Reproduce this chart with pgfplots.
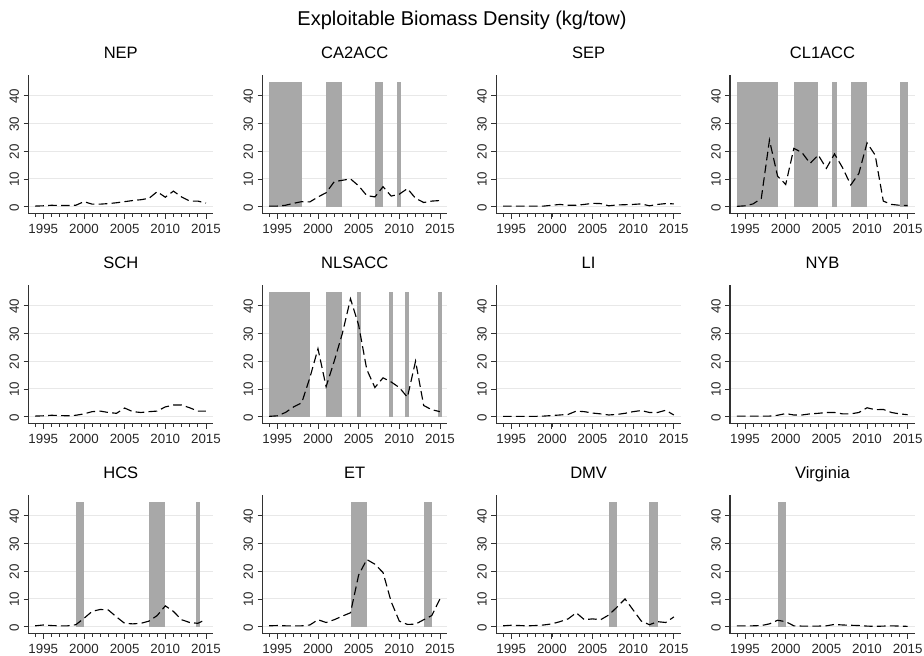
\documentclass[border=0pt]{standalone}
\usepackage{fontspec}
\setmainfont{Liberation Sans}
\usepackage{pgfplots}
\usepackage{pgfplotstable}
\pgfplotsset{compat=1.18}

\definecolor{shade}{RGB}{168,168,168}
\definecolor{gridc}{RGB}{232,232,232}
\definecolor{axc}{RGB}{50,50,50}

% exploitable biomass density by region, kg/tow
\pgfplotstableread{
year NEP CA2ACC SEP CL1ACC SCH NLSACC LI NYB HCS ET DMV VA
1994 0.2 0.2 0.2 0.1 0.2 0.1 0.1 0.2 0.3 0.3 0.3 0.3
1995 0.3 0.2 0.2 0.3 0.3 0.3 0.1 0.2 0.6 0.4 0.5 0.3
1996 0.5 0.5 0.2 1.0 0.5 1.5 0.1 0.2 0.4 0.3 0.4 0.3
1997 0.4 1.2 0.2 3.0 0.4 3.5 0.1 0.2 0.3 0.3 0.3 0.4
1998 0.4 1.8 0.2 24.0 0.3 5.0 0.1 0.2 0.3 0.3 0.4 1.0
1999 0.5 1.7 0.2 11.0 0.5 14.0 0.2 0.5 0.7 0.6 0.6 2.3
2000 1.8 3.5 0.5 8.0 1.0 24.5 0.4 1.1 3.0 2.5 1.0 1.8
2001 0.9 5.0 0.8 21.0 1.8 10.8 0.6 0.6 5.5 1.5 1.8 0.3
2002 0.9 9.0 0.5 19.5 2.0 20.0 0.8 0.6 6.2 2.5 2.8 0.2
2003 1.1 9.5 0.5 15.6 1.5 30.0 2.0 1.0 6.0 3.8 5.0 0.2
2004 1.4 10.0 0.8 18.6 1.2 42.5 1.8 1.2 3.5 5.0 2.5 0.2
2005 1.8 7.5 1.2 13.8 3.1 33.0 1.3 1.5 1.2 18.6 2.8 0.3
2006 2.2 4.0 1.1 19.0 1.8 17.0 1.0 1.5 1.0 24.2 2.5 0.8
2007 2.5 3.5 0.3 14.0 1.5 10.5 0.6 1.0 1.2 22.5 4.2 0.6
2008 3.0 7.2 0.6 7.8 1.8 14.0 0.8 1.0 2.0 19.5 7.0 0.5
2009 5.4 3.8 0.7 12.0 2.0 12.5 1.2 1.5 4.0 9.0 10.0 0.4
2010 3.4 4.5 0.8 23.0 3.5 10.5 1.8 3.2 7.5 2.0 6.0 0.2
2011 5.6 6.5 1.0 18.6 4.2 7.0 2.2 2.5 5.5 0.8 2.0 0.1
2012 3.5 3.0 0.3 2.0 4.2 20.0 1.5 2.6 2.5 0.9 0.7 0.2
2013 2.0 1.5 0.8 0.8 3.2 4.0 1.5 1.5 1.5 2.5 1.8 0.3
2014 2.0 2.0 1.1 0.5 2.0 2.5 2.3 1.0 1.2 4.0 1.5 0.2
2015 1.3 2.2 1.0 0.4 2.0 1.8 0.6 0.7 2.6 10.0 3.5 0.1
}\biomass

\pgfplotsset{
  panel/.style={
    anchor=south west, scale only axis,
    width=138.75pt, height=104.25pt,
    xmin=1993.15, xmax=2015.9, ymin=-2.6, ymax=47.5,
    axis x line*=bottom, axis y line*=left,
    axis line style={axc, line width=0.8pt},
    xtick={1995,2000,...,2015},
    minor xtick={1994,...,2014},
    ytick={0,10,...,40},
    ymajorgrids, grid style={gridc, line width=0.7pt},
    tick align=outside,
    major tick length=3.5pt, minor tick length=2pt,
    every tick/.style={axc, line width=0.6pt},
    every minor tick/.style={axc, line width=0.5pt},
    /pgf/number format/1000 sep={},
    /pgf/number format/assume math mode=true,
    ticklabel style={font=\fontsize{10}{11}\selectfont, text=black!85},
    xticklabel style={yshift=-0.5pt},
    yticklabel style={rotate=90, anchor=south, xshift=-0.5pt},
    title style={at={(0.5,1)}, anchor=base, yshift=6pt,
      font=\fontsize{12.4}{14}\selectfont},
  },
  dataline/.style={black, line width=0.85pt, dash pattern=on 6.5pt off 3.2pt},
  shadebar/.style={fill=shade, draw=none},
}
\newcommand{\closure}[2]{\addplot[shadebar] coordinates {(#1,0) (#1,45) (#2,45) (#2,0)} --cycle;}

\begin{document}
\begin{tikzpicture}
\path[use as bounding box] (0,0) rectangle (693pt,492pt);
\node[anchor=base, font=\fontsize{15}{18}\selectfont] at (346.5pt,472.5pt) {Exploitable Biomass Density (kg/tow)};

% row 1
\begin{axis}[panel, at={(21.2pt,331.6pt)}, title={NEP}]
  \addplot[dataline] table[x=year, y=NEP] {\biomass};
\end{axis}
\begin{axis}[panel, at={(196.7pt,331.6pt)}, title={CA2ACC}]
  \closure{1994}{1998} \closure{2001}{2003} \closure{2007}{2008} \closure{2009.75}{2010.25}
  \addplot[dataline] table[x=year, y=CA2ACC] {\biomass};
\end{axis}
\begin{axis}[panel, at={(372.1pt,331.6pt)}, title={SEP}]
  \addplot[dataline] table[x=year, y=SEP] {\biomass};
\end{axis}
\begin{axis}[panel, at={(547.5pt,331.6pt)}, title={CL1ACC}]
  \closure{1994}{1999} \closure{2001}{2004} \closure{2005.75}{2006.25} \closure{2008}{2010} \closure{2014}{2015}
  \addplot[dataline] table[x=year, y=CL1ACC] {\biomass};
\end{axis}

% row 2
\begin{axis}[panel, at={(21.2pt,174.1pt)}, title={SCH}]
  \addplot[dataline] table[x=year, y=SCH] {\biomass};
\end{axis}
\begin{axis}[panel, at={(196.7pt,174.1pt)}, title={NLSACC}]
  \closure{1994}{1999} \closure{2001}{2003} \closure{2004.75}{2005.25} \closure{2008.75}{2009.25} \closure{2010.75}{2011.25} \closure{2014.75}{2015.25}
  \addplot[dataline] table[x=year, y=NLSACC] {\biomass};
\end{axis}
\begin{axis}[panel, at={(372.1pt,174.1pt)}, title={LI}]
  \addplot[dataline] table[x=year, y=LI] {\biomass};
\end{axis}
\begin{axis}[panel, at={(547.5pt,174.1pt)}, title={NYB}]
  \addplot[dataline] table[x=year, y=NYB] {\biomass};
\end{axis}

% row 3
\begin{axis}[panel, at={(21.2pt,16.6pt)}, title={HCS}]
  \closure{1999}{2000} \closure{2008}{2010} \closure{2013.75}{2014.25}
  \addplot[dataline] table[x=year, y=HCS] {\biomass};
\end{axis}
\begin{axis}[panel, at={(196.7pt,16.6pt)}, title={ET}]
  \closure{2004}{2006} \closure{2013}{2014}
  \addplot[dataline] table[x=year, y=ET] {\biomass};
\end{axis}
\begin{axis}[panel, at={(372.1pt,16.6pt)}, title={DMV}]
  \closure{2007}{2008} \closure{2012}{2013}
  \addplot[dataline] table[x=year, y=DMV] {\biomass};
\end{axis}
\begin{axis}[panel, at={(547.5pt,16.6pt)}, title={Virginia}]
  \closure{1999}{2000}
  \addplot[dataline] table[x=year, y=VA] {\biomass};
\end{axis}
\end{tikzpicture}
\end{document}
